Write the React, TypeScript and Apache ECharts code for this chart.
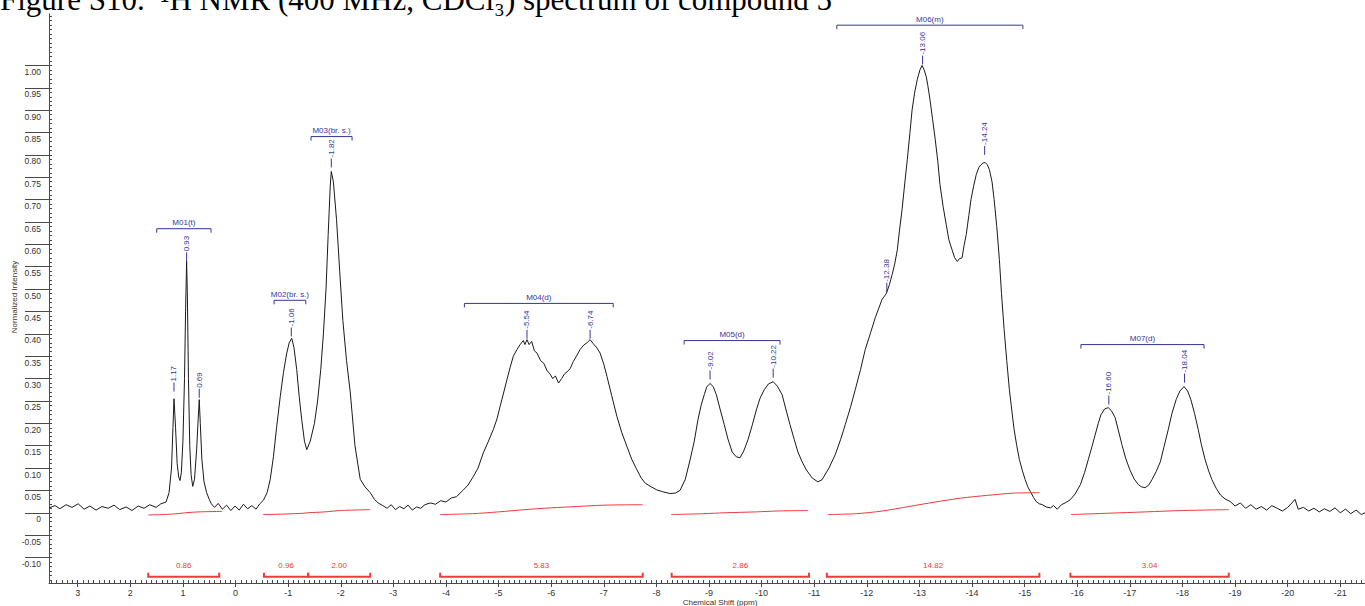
import React, { useEffect, useRef } from "react";
import * as echarts from "echarts";

// ---------- data ----------
const titleText = "Figure S10.  \u00B9H NMR (400 MHz, CDCl\u2083) spectrum of compound 5";
const xAxisName = "Chemical Shift (ppm)";
const yAxisName = "Normalized Intensity";

// spectrum [ppm, normalized intensity]
const spectrum: number[][] = [
  [3.546,0.011],[3.43,0.016],[3.34,0.009],[3.22,0.018],[3.11,0.012],[2.99,0.02],[2.88,0.008],[2.77,0.015],[2.65,0.006],[2.54,0.014],[2.42,0.01],[2.31,0.017],[2.20,0.007],[2.08,0.013],[1.97,0.005],[1.85,0.015],[1.74,0.01],[1.63,0.018],[1.51,0.012],[1.42,0.02],[1.32,0.024],
  [1.264,0.045],[1.217,0.1],[1.19,0.19],[1.17,0.255],[1.14,0.19],[1.11,0.11],[1.08,0.08],[1.055,0.072],[1.03,0.09],[1.0,0.16],[0.97,0.3],[0.95,0.45],[0.93,0.562],[0.915,0.48],[0.895,0.3],[0.87,0.15],[0.845,0.085],[0.814,0.059],[0.78,0.075],[0.74,0.14],[0.71,0.21],[0.69,0.253],[0.67,0.2],[0.64,0.12],[0.6,0.07],[0.55,0.045],[0.5,0.03],[0.46,0.02],
  [0.40,0.012],[0.33,0.021],[0.25,0.008],[0.17,0.017],[0.09,0.005],[0.01,0.015],[-0.07,0.006],[-0.15,0.019],[-0.23,0.009],[-0.31,0.016],[-0.39,0.008],[-0.46,0.02],
  [-0.53,0.028],[-0.6,0.045],[-0.66,0.075],[-0.72,0.125],[-0.78,0.19],[-0.85,0.26],[-0.91,0.313],[-0.97,0.355],[-1.02,0.38],[-1.068,0.39],[-1.11,0.37],[-1.163,0.32],[-1.21,0.26],[-1.258,0.208],[-1.31,0.16],[-1.354,0.141],[-1.42,0.16],[-1.50,0.2],[-1.56,0.25],[-1.62,0.32],[-1.67,0.4],[-1.72,0.5],[-1.76,0.62],[-1.80,0.73],[-1.82,0.763],[-1.86,0.74],[-1.92,0.655],[-1.98,0.54],[-2.04,0.43],[-2.11,0.34],[-2.18,0.27],[-2.27,0.15],[-2.37,0.075],[-2.46,0.058],[-2.56,0.045],[-2.64,0.03],[-2.71,0.022],
  [-2.8,0.016],[-2.88,0.01],[-2.96,0.018],[-3.04,0.007],[-3.12,0.014],[-3.2,0.009],[-3.28,0.017],[-3.36,0.006],[-3.44,0.013],[-3.52,0.01],[-3.6,0.018],[-3.7,0.022],[-3.8,0.019],[-3.9,0.027],[-4.0,0.024],[-4.1,0.033],[-4.2,0.036],[-4.33,0.051],
  [-4.42,0.062],[-4.52,0.081],[-4.61,0.1],[-4.71,0.134],[-4.8,0.158],[-4.9,0.186],[-4.97,0.21],[-5.03,0.238],[-5.1,0.27],[-5.16,0.298],[-5.22,0.325],[-5.28,0.35],[-5.35,0.365],[-5.41,0.376],[-5.47,0.385],[-5.5,0.376],[-5.54,0.387],[-5.58,0.376],[-5.63,0.383],[-5.68,0.362],[-5.73,0.357],[-5.8,0.34],[-5.86,0.334],[-5.92,0.318],[-5.98,0.31],[-6.03,0.3],[-6.08,0.306],[-6.14,0.29],[-6.2,0.3],[-6.25,0.31],[-6.3,0.315],[-6.36,0.322],[-6.42,0.338],[-6.48,0.35],[-6.55,0.365],[-6.62,0.375],[-6.68,0.38],[-6.74,0.387],[-6.8,0.378],[-6.86,0.37],[-6.93,0.357],[-7.0,0.332],[-7.06,0.305],[-7.15,0.262],[-7.25,0.215],[-7.34,0.18],[-7.44,0.148],[-7.53,0.12],[-7.63,0.096],[-7.71,0.078],[-7.79,0.066],[-7.9,0.058],[-8.01,0.051],[-8.12,0.047],[-8.26,0.043],
  [-8.36,0.044],[-8.45,0.05],[-8.55,0.075],[-8.64,0.118],[-8.72,0.16],[-8.79,0.208],[-8.85,0.24],[-8.91,0.264],[-8.96,0.282],[-9.02,0.289],[-9.08,0.282],[-9.14,0.264],[-9.21,0.232],[-9.29,0.197],[-9.36,0.165],[-9.44,0.136],[-9.52,0.125],[-9.59,0.123],[-9.66,0.138],[-9.74,0.163],[-9.82,0.195],[-9.9,0.23],[-9.97,0.256],[-10.05,0.275],[-10.13,0.288],[-10.22,0.293],[-10.3,0.283],[-10.39,0.264],[-10.46,0.232],[-10.54,0.197],[-10.62,0.164],[-10.69,0.136],[-10.77,0.114],[-10.85,0.096],[-10.96,0.078],[-11.07,0.069],
  [-11.15,0.074],[-11.28,0.1],[-11.4,0.13],[-11.5,0.163],[-11.59,0.197],[-11.69,0.236],[-11.78,0.275],[-11.88,0.32],[-11.97,0.365],[-12.07,0.402],[-12.16,0.436],[-12.23,0.458],[-12.29,0.477],[-12.37,0.49],[-12.43,0.51],[-12.48,0.532],[-12.53,0.556],[-12.58,0.588],[-12.62,0.63],[-12.67,0.678],[-12.72,0.735],[-12.77,0.79],[-12.82,0.85],[-12.86,0.9],[-12.91,0.94],[-12.96,0.969],[-13.01,0.99],[-13.05,1.0],[-13.09,0.99],[-13.13,0.975],[-13.16,0.955],[-13.2,0.924],[-13.25,0.88],[-13.3,0.835],[-13.35,0.785],[-13.39,0.734],[-13.45,0.685],[-13.51,0.644],[-13.56,0.61],[-13.62,0.588],[-13.67,0.57],[-13.72,0.562],[-13.76,0.568],[-13.81,0.57],[-13.85,0.598],[-13.89,0.622],[-13.94,0.665],[-13.98,0.7],[-14.03,0.73],[-14.08,0.756],[-14.13,0.772],[-14.17,0.778],[-14.21,0.782],[-14.25,0.783],[-14.29,0.778],[-14.33,0.767],[-14.38,0.74],[-14.42,0.7],[-14.47,0.64],[-14.52,0.566],[-14.56,0.49],[-14.61,0.41],[-14.66,0.34],[-14.71,0.275],[-14.76,0.225],[-14.8,0.186],[-14.85,0.15],[-14.9,0.119],[-14.96,0.093],[-15.01,0.074],[-15.06,0.058],[-15.11,0.047],[-15.17,0.034],[-15.22,0.025],[-15.28,0.02],[-15.34,0.018],[-15.41,0.013],[-15.49,0.011],[-15.55,0.016],[-15.62,0.008],[-15.7,0.018],[-15.77,0.022],
  [-15.865,0.029],[-15.96,0.042],[-16.06,0.063],[-16.14,0.09],[-16.21,0.119],[-16.28,0.148],[-16.34,0.174],[-16.4,0.2],[-16.45,0.219],[-16.52,0.232],[-16.59,0.235],[-16.65,0.228],[-16.72,0.213],[-16.78,0.185],[-16.85,0.152],[-16.92,0.122],[-17.0,0.096],[-17.08,0.076],[-17.16,0.063],[-17.22,0.058],[-17.29,0.056],[-17.36,0.062],[-17.42,0.074],[-17.5,0.092],[-17.58,0.114],[-17.65,0.148],[-17.73,0.186],[-17.8,0.222],[-17.88,0.253],[-17.95,0.272],[-18.03,0.282],[-18.1,0.272],[-18.16,0.253],[-18.23,0.222],[-18.3,0.186],[-18.36,0.152],[-18.43,0.119],[-18.5,0.093],[-18.56,0.074],[-18.64,0.055],[-18.72,0.04],[-18.81,0.031],[-18.91,0.025],
  [-19.0,0.015],[-19.1,0.022],[-19.2,0.01],[-19.3,0.018],[-19.4,0.008],[-19.5,0.014],[-19.6,0.006],[-19.7,0.016],[-19.8,0.01],[-19.9,0.004],[-20.0,0.012],[-20.08,0.022],[-20.14,0.03],[-20.2,0.008],[-20.3,0.012],[-20.4,0.004],[-20.5,0.01],[-20.6,0.002],[-20.7,0.009],[-20.8,0.003],[-20.9,0.011],[-21.0,0.0],[-21.1,0.008],[-21.2,-0.002],[-21.3,0.006],[-21.4,-0.004],[-21.47,0.0],
];

// peak picks
const peakPpm = [1.17, 0.93, 0.69, -1.06, -1.82, -5.54, -6.74, -9.02, -10.22, -12.38, -13.06, -14.24, -16.60, -18.04];
const peakTip = [0.271, 0.562, 0.257, 0.394, 0.772, 0.389, 0.389, 0.298, 0.302, 0.494, 1.002, 0.80, 0.242, 0.291];
const peakText = ["1.17", "0.93", "0.69", "-1.06", "-1.82", "-5.54", "-6.74", "-9.02", "-10.22", "-12.38", "-13.06", "-14.24", "-16.60", "-18.04"];

// multiplets
const multName = ["M01(t)", "M02(br. s.)", "M03(br. s.)", "M04(d)", "M05(d)", "M06(m)", "M07(d)"];
const multFrom = [1.498, -0.732, -1.435, -4.35, -8.527, -11.43, -16.07];
const multTo = [0.466, -1.335, -2.215, -7.18, -10.35, -14.966, -18.41];
const multLevel = [0.635, 0.475, 0.841, 0.468, 0.385, 1.090, 0.376];

// integrals
const integValue = ["0.86", "0.96", "2.00", "5.83", "2.86", "14.82", "3.04"];
const integFrom = [1.66, -0.54, -1.38, -3.89, -8.29, -11.24, -15.87];
const integTo = [0.31, -1.38, -2.56, -7.74, -10.9, -15.28, -18.88];

// integral curves
const integCurve1 = [[1.66,-0.005],[1.2,-0.003],[0.95,0.0],[0.7,0.002],[0.26,0.003]];
const integCurve2 = [[-0.52,-0.004],[-0.9,-0.003],[-1.3,-0.001],[-1.38,0.0],[-1.7,0.002],[-2.0,0.005],[-2.56,0.007]];
const integCurve3 = [[-3.89,-0.004],[-4.5,-0.002],[-5.0,0.002],[-5.5,0.007],[-6.0,0.011],[-6.5,0.014],[-7.0,0.017],[-7.74,0.018]];
const integCurve4 = [[-8.28,-0.004],[-8.9,-0.002],[-9.3,0.0],[-9.9,0.002],[-10.3,0.004],[-10.88,0.005]];
const integCurve5 = [[-11.26,-0.004],[-11.8,-0.002],[-12.3,0.004],[-12.8,0.014],[-13.3,0.024],[-13.8,0.033],[-14.3,0.039],[-14.8,0.044],[-15.28,0.045]];
const integCurve6 = [[-15.88,-0.004],[-16.6,-0.001],[-17.3,0.002],[-18.0,0.005],[-18.88,0.007]];
const integCurves = [integCurve1, integCurve2, integCurve3, integCurve4, integCurve5, integCurve6];

// axis ticks
const xMajorTicks = [3, 2, 1, 0, -1, -2, -3, -4, -5, -6, -7, -8, -9, -10, -11, -12, -13, -14, -15, -16, -17, -18, -19, -20, -21];
const yMajorTicks = [-0.10, -0.05, 0, 0.05, 0.10, 0.15, 0.20, 0.25, 0.30, 0.35, 0.40, 0.45, 0.50, 0.55, 0.60, 0.65, 0.70, 0.75, 0.80, 0.85, 0.90, 0.95, 1.00];

// ---------- layout / style ----------
const X_MIN = -21.47, X_MAX = 3.546;
const Y_MIN = -0.157, Y_MAX = 1.115;
const GRID_LEFT = 49, GRID_TOP = 14, GRID_BOTTOM = 23;
const W = 1365, H = 606;
const GRID_W = W - GRID_LEFT;
const GRID_H = H - GRID_TOP - GRID_BOTTOM;
const INTEG_BAR_LEVEL = -0.143;
const BLUE = "#35359a";
const RED = "#ee3a3a";
const AXIS = "#4a4a4a";
const FONT = "Liberation Sans, Arial, sans-serif";

const xMinorTicks: number[] = [];
for (let k = -214; k <= 35; k++) xMinorTicks.push(k / 10);
const yMinorTicks: number[] = [];
for (let k = -15; k <= 111; k++) yMinorTicks.push(k / 100);

export default function App() {
  const ref = useRef<HTMLDivElement>(null);
  useEffect(() => {
    if (!ref.current) return;
    const chart = echarts.init(ref.current, undefined, { renderer: "svg" });

    const peakData = peakPpm.map((p, i) => [p, peakTip[i], i]);
    const multData = multFrom.map((f, i) => [f, multLevel[i], multTo[i], i]);
    const integData = integFrom.map((f, i) => [f, INTEG_BAR_LEVEL, integTo[i], i]);

    const option: any = {
      animation: false,
      grid: { left: GRID_LEFT, right: 0, top: GRID_TOP, bottom: GRID_BOTTOM, containLabel: false, outerBoundsMode: "none" },
      xAxis: [
        {
          type: "value", min: X_MIN, max: X_MAX, inverse: true, position: "bottom",
          axisLine: { show: true, onZero: false, lineStyle: { color: AXIS, width: 1 } },
          axisTick: { show: true, customValues: xMajorTicks, length: 4, inside: false, lineStyle: { color: AXIS } },
          axisLabel: { show: true, customValues: xMajorTicks, margin: 5, fontSize: 9, fontFamily: FONT, color: "#333",
            formatter: (v: number) => String(Math.round(v)) },
          splitLine: { show: false },
        },
        {
          // minor ticks: placed on top slot, shifted down onto the bottom axis line
          type: "value", min: X_MIN, max: X_MAX, inverse: true, position: "top", offset: -GRID_H,
          axisLine: { show: false, onZero: false },
          axisTick: { show: true, customValues: xMinorTicks, length: 3, inside: false, lineStyle: { color: AXIS } },
          axisLabel: { show: false },
          splitLine: { show: false },
        },
      ],
      yAxis: [
        {
          type: "value", min: Y_MIN, max: Y_MAX, position: "left",
          axisLine: { show: true, onZero: false, lineStyle: { color: AXIS, width: 1 } },
          axisTick: { show: true, customValues: yMajorTicks, length: 24, inside: false, lineStyle: { color: AXIS } },
          axisLabel: { show: true, customValues: yMajorTicks, margin: 8, fontSize: 8.5, fontFamily: FONT, color: "#333",
            verticalAlign: "top", padding: [2, 0, 0, 0],
            formatter: (v: number) => (Math.abs(v) < 1e-9 ? "0" : v.toFixed(2)) },
          splitLine: { show: false },
        },
        {
          // minor ticks: placed on right slot, shifted left onto the left axis line
          type: "value", min: Y_MIN, max: Y_MAX, position: "right", offset: -GRID_W,
          axisLine: { show: false, onZero: false },
          axisTick: { show: true, customValues: yMinorTicks, length: 3, inside: false, lineStyle: { color: AXIS } },
          axisLabel: { show: false },
          splitLine: { show: false },
        },
      ],
      series: [
        {
          type: "line", xAxisIndex: 0, yAxisIndex: 0, data: spectrum, showSymbol: false, symbol: "none",
          lineStyle: { color: "#1a1a1a", width: 1 }, silent: true,
        },
        ...integCurves.map((c) => ({
          type: "line", xAxisIndex: 0, yAxisIndex: 0, data: c, showSymbol: false, symbol: "none", smooth: 0.3,
          lineStyle: { color: RED, width: 1 }, silent: true,
        })),
        {
          type: "custom", xAxisIndex: 0, yAxisIndex: 0, data: peakData, silent: true,
          renderItem: (params: any, api: any) => {
            const pt = api.coord([api.value(0), api.value(1)]);
            const i = api.value(2);
            return {
              type: "group",
              children: [
                { type: "line", shape: { x1: pt[0], y1: pt[1], x2: pt[0], y2: pt[1] - 9 }, style: { stroke: BLUE, lineWidth: 1 } },
                { type: "text", x: pt[0], y: pt[1] - 10, rotation: Math.PI / 2,
                  style: { text: peakText[i], fill: BLUE, fontSize: 8, fontFamily: FONT, align: "left", verticalAlign: "middle" } },
              ],
            };
          },
        },
        {
          type: "custom", xAxisIndex: 0, yAxisIndex: 0, data: multData, encode: { x: [0, 2], y: 1 }, silent: true,
          renderItem: (params: any, api: any) => {
            const p1 = api.coord([api.value(0), api.value(1)]);
            const p2 = api.coord([api.value(2), api.value(1)]);
            const i = api.value(3);
            return {
              type: "group",
              children: [
                { type: "polyline", shape: { points: [[p1[0], p1[1] + 4], [p1[0], p1[1]], [p2[0], p2[1]], [p2[0], p2[1] + 4]] },
                  style: { stroke: BLUE, fill: "none", lineWidth: 1 } },
                { type: "text", x: (p1[0] + p2[0]) / 2, y: p1[1] - 2,
                  style: { text: multName[i], fill: BLUE, fontSize: 8, fontFamily: FONT, align: "center", verticalAlign: "bottom" } },
              ],
            };
          },
        },
        {
          type: "custom", xAxisIndex: 0, yAxisIndex: 0, data: integData, encode: { x: [0, 2], y: 1 }, silent: true,
          renderItem: (params: any, api: any) => {
            const p1 = api.coord([api.value(0), api.value(1)]);
            const p2 = api.coord([api.value(2), api.value(1)]);
            const i = api.value(3);
            return {
              type: "group",
              children: [
                { type: "polyline", shape: { points: [[p1[0], p1[1] - 4], [p1[0], p1[1]], [p2[0], p2[1]], [p2[0], p2[1] - 4]] },
                  style: { stroke: RED, fill: "none", lineWidth: 2 } },
                { type: "text", x: (p1[0] + p2[0]) / 2, y: p1[1] - 11,
                  style: { text: integValue[i], fill: RED, fontSize: 8, fontFamily: FONT, align: "center", verticalAlign: "middle" } },
              ],
            };
          },
        },
      ],
      graphic: [
        { type: "text", x: 0, y: -1, silent: true,
          style: { text: titleText, fill: "#000", fontSize: 31, fontFamily: "Liberation Serif, Times New Roman, serif", align: "left", verticalAlign: "middle" } },
        { type: "text", x: 720, y: 602, silent: true,
          style: { text: xAxisName, fill: "#333", fontSize: 8, fontFamily: FONT, align: "center", verticalAlign: "middle" } },
        { type: "text", x: 14, y: 297, rotation: Math.PI / 2, silent: true,
          style: { text: yAxisName, fill: "#333", fontSize: 8, fontFamily: FONT, align: "center", verticalAlign: "middle" } },
      ],
    };
    chart.setOption(option);
    return () => chart.dispose();
  }, []);
  return <div ref={ref} style={{ position: "absolute", left: 0, top: 0, width: W, height: H, background: "#fff" }} />;
}
